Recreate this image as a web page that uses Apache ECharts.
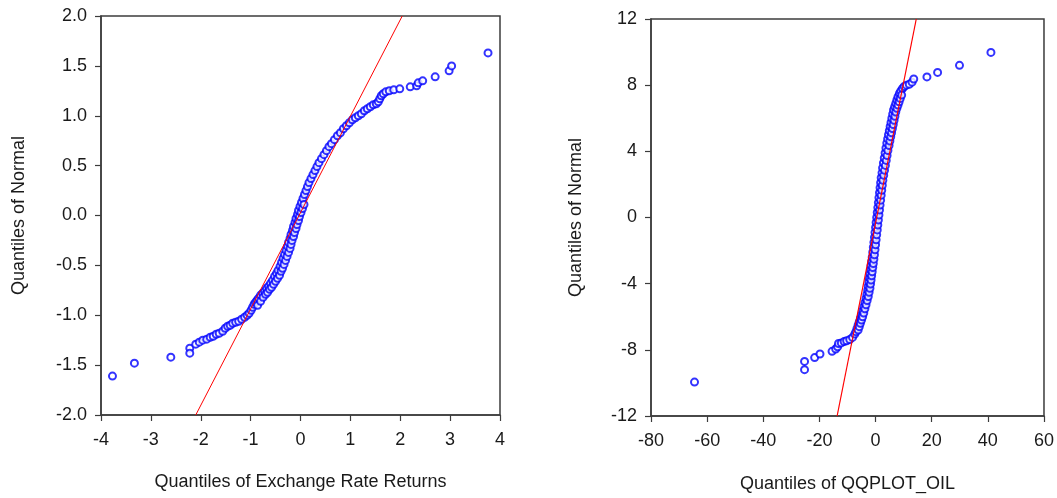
<!DOCTYPE html>
<html>
<head>
<meta charset="utf-8">
<title>QQ plots</title>
<script src="https://cdn.jsdelivr.net/npm/echarts@6/dist/echarts.min.js"></script>
<style>
  html, body { margin: 0; padding: 0; background: #fff; }
  #chart { width: 1057px; height: 498px; }
</style>
</head>
<body>
<div id="chart"></div>
<script>
// left panel: exchange rate returns vs normal quantiles
var leftX = [-3.77, -3.33, -2.60, -2.22, -2.22, -2.10, -2.03, -1.96, -1.88, -1.81, -1.75, -1.69, -1.63, -1.56, -1.51,
  -1.46, -1.41, -1.36, -1.30, -1.24, -1.18, -1.12, -1.07, -1.03, -0.99, -0.96, -0.93, -0.90, -0.87, -0.84,
  -0.80, -0.76, -0.72, -0.68, -0.64, -0.60, -0.56, -0.52, -0.48, -0.45, -0.41, -0.38, -0.35, -0.32, -0.29,
  -0.26, -0.24, -0.21, -0.19, -0.16, -0.14, -0.11, -0.09, -0.06, -0.04, -0.01, 0.02, 0.05, 0.08, 0.11,
  0.14, 0.17, 0.21, 0.25, 0.29, 0.33, 0.37, 0.42, 0.47, 0.52, 0.57, 0.62, 0.68, 0.74, 0.80,
  0.86, 0.92, 0.98, 1.04, 1.10, 1.16, 1.22, 1.28, 1.34, 1.40, 1.46, 1.52, 1.56, 1.59, 1.62,
  1.66, 1.71, 1.78, 1.87, 1.99, 2.20, 2.33, 2.36, 2.45, 2.70, 2.98, 3.03, 3.76];
var leftY = [-1.61, -1.48, -1.42, -1.33, -1.38, -1.29, -1.27, -1.25, -1.24, -1.22, -1.21, -1.19, -1.18, -1.16, -1.13,
  -1.11, -1.10, -1.08, -1.07, -1.06, -1.04, -1.02, -1.00, -0.98, -0.95, -0.92, -0.89, -0.87, -0.85, -0.83,
  -0.80, -0.78, -0.76, -0.73, -0.71, -0.68, -0.65, -0.61, -0.58, -0.55, -0.51, -0.47, -0.43, -0.39, -0.35,
  -0.31, -0.27, -0.23, -0.19, -0.15, -0.11, -0.07, -0.03, 0.01, 0.05, 0.09, 0.13, 0.17, 0.21, 0.25,
  0.29, 0.33, 0.37, 0.41, 0.45, 0.49, 0.53, 0.57, 0.61, 0.65, 0.69, 0.72, 0.76, 0.80, 0.83,
  0.87, 0.90, 0.93, 0.96, 0.98, 1.00, 1.02, 1.05, 1.07, 1.09, 1.11, 1.12, 1.14, 1.17, 1.20,
  1.22, 1.24, 1.25, 1.26, 1.27, 1.29, 1.30, 1.33, 1.35, 1.39, 1.45, 1.50, 1.63];
// right-hand edge of the thick part of the band
var leftBandX = [-0.86, -0.80, -0.75, -0.70, -0.66, -0.62, -0.58, -0.54, -0.50, -0.46, -0.42, -0.39, -0.36, -0.33, -0.30,
  -0.27, -0.24, -0.21, -0.19, -0.17, -0.14, -0.12, -0.09, -0.07, -0.04, -0.02, 0.01, 0.04, 0.07];
var leftBandY = [-0.90, -0.86, -0.82, -0.79, -0.77, -0.74, -0.72, -0.69, -0.66, -0.63, -0.60, -0.56, -0.53, -0.49, -0.45,
  -0.41, -0.37, -0.33, -0.29, -0.25, -0.21, -0.17, -0.13, -0.09, -0.05, -0.01, 0.03, 0.07, 0.11];
var leftLineX = [-2.10, 2.04];
var leftLineY = [-2.0, 2.0];
var leftTicksX = [-4, 4, 1];
var leftTicksY = [-2, 2, 0.5];

// right panel: QQPLOT_OIL vs normal quantiles
var rightX = [-64.5, -25.3, -25.3, -21.7, -19.8, -15.5, -14.2, -13.5, -13.2, -12.2, -11.2, -10.3, -9.2, -8.2,
  -7.4, -7.0, -6.6, -6.2, -5.8, -5.4, -5.0, -4.6, -4.2, -3.8, -3.4, -3.1, -2.8, -2.6, -2.4, -2.2,
  -2.0, -1.8, -1.6, -1.4, -1.2, -1.0, -0.8, -0.6, -0.4, -0.2, 0.0, 0.2, 0.4, 0.6, 0.8,
  1.0, 1.2, 1.4, 1.6, 1.8, 2.0, 2.3, 2.5, 2.8, 3.1, 3.4, 3.7, 4.0, 4.3, 4.6,
  4.9, 5.2, 5.5, 5.8, 6.1, 6.4, 6.8, 7.2, 7.6, 8.0, 8.5, 9.0, 9.6, 10.2, 11.0,
  12.0, 13.0, 13.6, 18.3, 22.1, 29.9, 41.1];
var rightY = [-9.95, -8.70, -9.20, -8.47, -8.25, -8.09, -7.95, -7.82, -7.62, -7.58, -7.50, -7.45, -7.38, -7.25,
  -7.05, -6.90, -6.70, -6.50, -6.30, -6.10, -5.90, -5.65, -5.40, -5.15, -4.90, -4.65, -4.40, -4.15, -3.90, -3.65,
  -3.40, -3.15, -2.90, -2.65, -2.40, -2.10, -1.80, -1.50, -1.20, -0.90, -0.60, -0.30, 0.00, 0.30, 0.60,
  0.90, 1.20, 1.50, 1.80, 2.10, 2.40, 2.70, 3.00, 3.30, 3.60, 3.90, 4.20, 4.50, 4.75, 5.00,
  5.25, 5.50, 5.75, 6.00, 6.25, 6.50, 6.70, 6.90, 7.10, 7.30, 7.50, 7.65, 7.80, 7.92, 8.00,
  8.05, 8.18, 8.37, 8.50, 8.77, 9.20, 9.98];
var rightBandX = [-6.2, -5.8, -5.4, -5.0, -4.6, -4.2, -3.8, -3.4, -3.0, -2.6, -2.3, -2.0, -1.8, -1.6, -1.4,
  -1.2, -1.0, -0.8, -0.6, -0.4, -0.2, 0.0, 0.2, 0.4, 0.6, 0.8, 1.0, 1.2, 1.4, 1.6,
  1.8, 2.0, 2.2, 2.4, 2.6, 2.9, 3.2, 3.5, 3.8, 4.1, 4.4, 4.8, 5.1, 5.4, 5.7,
  6.0, 6.3, 6.6, 6.9, 7.2, 7.6, 8.0, 8.4, 8.8, 9.3];
var rightBandY = [-6.80, -6.60, -6.40, -6.20, -6.00, -5.78, -5.52, -5.28, -5.02, -4.78, -4.52, -4.28, -4.02, -3.78, -3.52,
  -3.28, -3.02, -2.78, -2.52, -2.25, -1.95, -1.65, -1.35, -1.05, -0.75, -0.45, -0.15, 0.15, 0.45, 0.75,
  1.05, 1.35, 1.65, 1.95, 2.25, 2.55, 2.85, 3.15, 3.45, 3.75, 4.05, 4.35, 4.62, 4.88, 5.12,
  5.38, 5.62, 5.88, 6.12, 6.38, 6.60, 6.80, 7.00, 7.20, 7.40];
var rightLineX = [-13.7, 14.5];
var rightLineY = [-12, 12];
var rightTicksX = [-80, 60, 20];
var rightTicksY = [-12, 12, 4];

var FONT = 'Arial, "Liberation Sans", sans-serif';
var TXT = '#1a1a1a';
var AX = '#3c3c3c';

function zip(xs, ys) {
  var out = [];
  for (var i = 0; i < xs.length; i++) out.push([xs[i], ys[i]]);
  return out;
}

function valueAxis(idx, ticks, name, gap, margin, fmt) {
  return {
    type: 'value',
    gridIndex: idx,
    min: ticks[0], max: ticks[1], interval: ticks[2],
    name: name,
    nameLocation: 'middle',
    nameGap: gap,
    nameTextStyle: { fontFamily: FONT, fontSize: 18, color: TXT },
    axisLine: { show: true, onZero: false, lineStyle: { color: AX, width: 1.5 } },
    axisTick: { show: true, inside: false, length: 6, lineStyle: { color: AX, width: 1.2 } },
    axisLabel: { fontFamily: FONT, fontSize: 18, color: TXT, margin: margin, formatter: fmt },
    splitLine: { show: false }
  };
}

var dots = { color: '#0000ff', borderColor: '#0000ff', borderWidth: 1.3 };

var myChart = echarts.init(document.getElementById('chart'), null, { renderer: 'canvas' });

var option = {
  backgroundColor: '#fff',
  animation: false,
  grid: [
    { left: 101, right: 557, top: 16, bottom: 83, show: true, borderColor: AX, borderWidth: 1.5 },
    { left: 651, right: 12, top: 19, bottom: 82, show: true, borderColor: AX, borderWidth: 1.5 }
  ],
  xAxis: [
    valueAxis(0, leftTicksX, 'Quantiles of Exchange Rate Returns', 58, 16, function (v) { return v; }),
    valueAxis(1, rightTicksX, 'Quantiles of QQPLOT_OIL', 59, 16, function (v) { return v; })
  ],
  yAxis: [
    valueAxis(0, leftTicksY, 'Quantiles of Normal', 73, 14, function (v) { return v.toFixed(1); }),
    valueAxis(1, rightTicksY, 'Quantiles of Normal', 66, 14, function (v) { return v; })
  ],
  series: [
    {
      type: 'line', xAxisIndex: 0, yAxisIndex: 0,
      data: zip(leftLineX, leftLineY),
      symbol: 'none', lineStyle: { color: '#ff0000', width: 1 }, z: 3
    },
    {
      type: 'scatter', xAxisIndex: 0, yAxisIndex: 0,
      data: zip(leftX, leftY).concat(zip(leftBandX, leftBandY)),
      symbol: 'emptyCircle', symbolSize: 7, itemStyle: dots, z: 2
    },
    {
      type: 'line', xAxisIndex: 1, yAxisIndex: 1,
      data: zip(rightLineX, rightLineY),
      symbol: 'none', lineStyle: { color: '#ff0000', width: 1.2 }, z: 3
    },
    {
      type: 'scatter', xAxisIndex: 1, yAxisIndex: 1,
      data: zip(rightX, rightY).concat(zip(rightBandX, rightBandY)),
      symbol: 'emptyCircle', symbolSize: 7, itemStyle: dots, z: 2
    }
  ]
};

myChart.setOption(option);
</script>
</body>
</html>
